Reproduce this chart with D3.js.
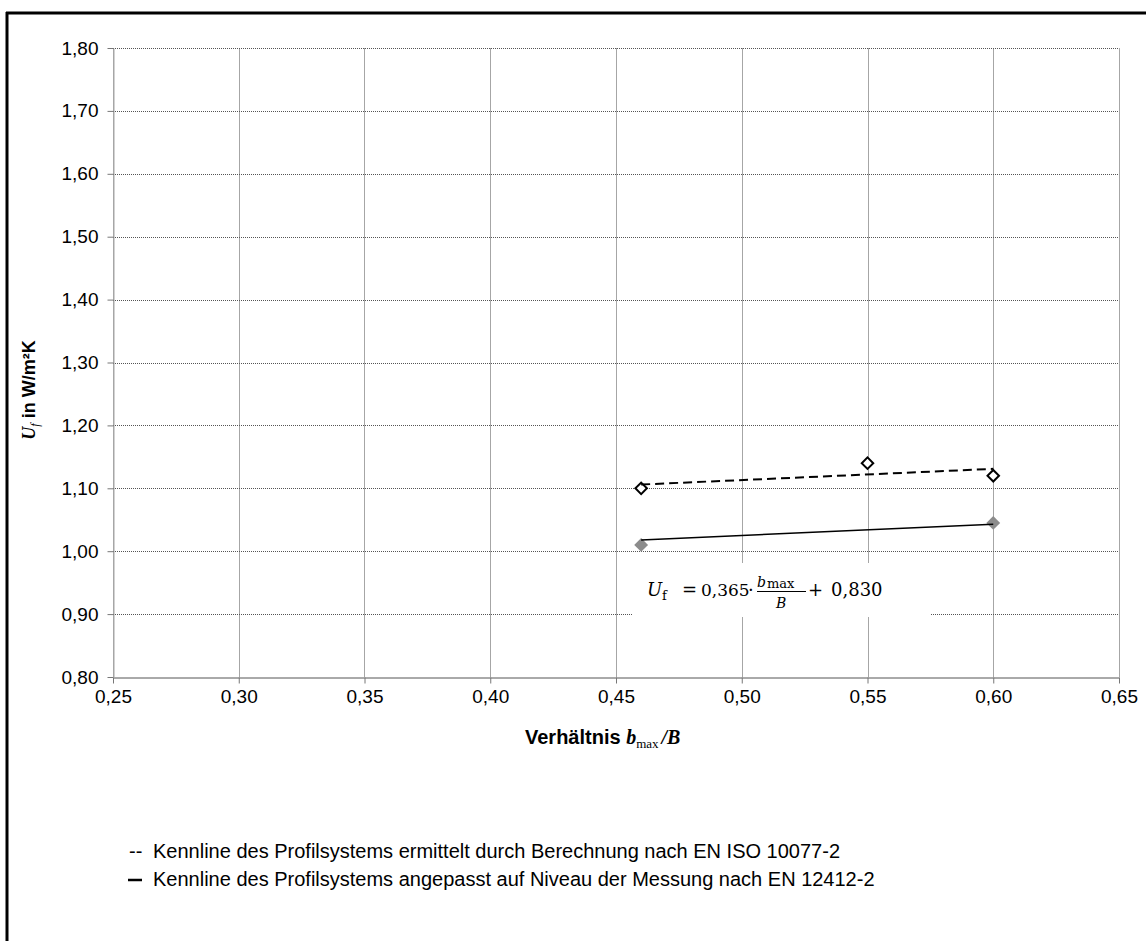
<!DOCTYPE html>
<html>
<head>
<meta charset="utf-8">
<script src="https://cdn.jsdelivr.net/npm/d3@7"></script>
<style>
  body { margin: 0; background: #fff; }
  text { font-family: "Liberation Sans", Arial, sans-serif; }
</style>
</head>
<body>
<svg id="chart" width="1146" height="941"></svg>
<script>
// values
var ratioCalc = [0.46, 0.55, 0.60];
var ufCalc = [1.10, 1.14, 1.12];
var ratioMeas = [0.46, 0.60];
var ufMeas = [1.01, 1.045];
var trendRatio = [0.46, 0.60];
var trendCalc = [1.106, 1.131];
var trendMeas = [1.018, 1.043];
var xTickValues = [0.25, 0.30, 0.35, 0.40, 0.45, 0.50, 0.55, 0.60, 0.65];
var yTickValues = [0.80, 0.90, 1.00, 1.10, 1.20, 1.30, 1.40, 1.50, 1.60, 1.70, 1.80];
var legendLabels = [
  "Kennline des Profilsystems ermittelt durch Berechnung nach EN ISO 10077-2",
  "Kennline des Profilsystems angepasst auf Niveau der Messung nach EN 12412-2"
];

var width = 1146, height = 941;
var plotLeft = 113, plotRight = 1119, plotTop = 48, plotBottom = 677;

var de = d3.formatLocale({ decimal: ",", thousands: ".", grouping: [3], currency: ["", " €"] });
var fmt = de.format(".2f");

var x = d3.scaleLinear().domain([0.25, 0.65]).range([plotLeft, plotRight]);
var y = d3.scaleLinear().domain([0.8, 1.8]).range([plotBottom, plotTop]);

var svg = d3.select("#chart");

// frame (top and left only)
svg.append("line").attr("x1", 6).attr("x2", width).attr("y1", 13).attr("y2", 13)
  .attr("stroke", "#000").attr("stroke-width", 3);
svg.append("line").attr("x1", 7).attr("x2", 7).attr("y1", 12).attr("y2", height)
  .attr("stroke", "#000").attr("stroke-width", 3);

// vertical grid
svg.append("g").selectAll("line").data(xTickValues).join("line")
  .attr("x1", function (d) { return Math.round(x(d)) + 0.5; })
  .attr("x2", function (d) { return Math.round(x(d)) + 0.5; })
  .attr("y1", plotTop).attr("y2", plotBottom)
  .attr("stroke", "#a6a6a6").attr("stroke-width", 1);

// horizontal grid, dotted
svg.append("g").selectAll("line").data(yTickValues.slice(1)).join("line")
  .attr("x1", plotLeft).attr("x2", plotRight)
  .attr("y1", function (d) { return Math.round(y(d)) + 0.5; })
  .attr("y2", function (d) { return Math.round(y(d)) + 0.5; })
  .attr("stroke", "#555").attr("stroke-width", 1).attr("stroke-dasharray", "1,1");

// axes
var xAxis = d3.axisBottom(x).tickValues(xTickValues).tickFormat(fmt).tickSizeInner(6).tickSizeOuter(0).tickPadding(6);
var gx = svg.append("g").attr("transform", "translate(0," + (Math.round(plotBottom) + 0.5) + ")").call(xAxis);
gx.select(".domain").attr("stroke", "#555");
gx.selectAll(".tick line").attr("stroke", "#777");
gx.selectAll("text").attr("font-size", 19).attr("fill", "#000")
  .attr("font-family", "'Liberation Sans', Arial, sans-serif");

var yAxis = d3.axisLeft(y).tickValues(yTickValues).tickFormat(fmt).tickSizeInner(6).tickSizeOuter(0).tickPadding(9);
var gy = svg.append("g").attr("transform", "translate(" + (plotLeft + 0.5) + ",0)").call(yAxis);
gy.select(".domain").attr("stroke", "#a6a6a6");
gy.selectAll(".tick line").attr("stroke", "#777");
gy.selectAll("text").attr("font-size", 19).attr("fill", "#000")
  .attr("font-family", "'Liberation Sans', Arial, sans-serif");

// white box behind the equation
svg.append("rect").attr("x", 633).attr("y", 563).attr("width", 297).attr("height", 54).attr("fill", "#fff");

// markers
var diamond = d3.symbol().type(d3.symbolSquare);
svg.append("g").selectAll("path").data(ratioMeas).join("path")
  .attr("d", diamond.size(96)())
  .attr("transform", function (d, i) { return "translate(" + x(d) + "," + y(ufMeas[i]) + ") rotate(45)"; })
  .attr("fill", "#8c8c8c");

svg.append("g").selectAll("path").data(ratioCalc).join("path")
  .attr("d", diamond.size(66)())
  .attr("transform", function (d, i) { return "translate(" + x(d) + "," + y(ufCalc[i]) + ") rotate(45)"; })
  .attr("fill", "#fff").attr("stroke", "#000").attr("stroke-width", 2);

// trend lines
var line = d3.line()
  .x(function (d) { return x(d[0]); })
  .y(function (d) { return y(d[1]); });

svg.append("path").datum(d3.zip(trendRatio, trendCalc)).attr("d", line)
  .attr("fill", "none").attr("stroke", "#000").attr("stroke-width", 2).attr("stroke-dasharray", "9,5");
svg.append("path").datum(d3.zip(trendRatio, trendMeas)).attr("d", line)
  .attr("fill", "none").attr("stroke", "#000").attr("stroke-width", 1.5);

// equation
var serif = "'DejaVu Serif', 'Liberation Serif', serif";
var eq = svg.append("g").attr("fill", "#000");
function eqText(px, py, size, str, italic) {
  return eq.append("text").attr("x", px).attr("y", py).attr("font-size", size)
    .attr("font-style", italic ? "italic" : "normal").style("font-family", serif).text(str);
}
eqText(647, 596, 18, "U", true);
eqText(662, 600, 13, "f", false);
eqText(682, 596, 18, "=", false);
eqText(701, 596, 17, "0,365", false);
eqText(748, 596, 18, "·", false);
eqText(757, 587, 14, "b", true);
eqText(767, 588, 13, "max", false);
eq.append("line").attr("x1", 757).attr("x2", 806).attr("y1", 591.5).attr("y2", 591.5)
  .attr("stroke", "#000").attr("stroke-width", 1);
eqText(776, 608, 14, "B", true);
eqText(808, 596, 18, "+", false);
eqText(831, 596, 18, "0,830", false);

// x axis title
var xt = svg.append("text").attr("x", 525).attr("y", 744).attr("font-size", 20).attr("font-weight", "bold");
xt.append("tspan").text("Verhältnis ");
xt.append("tspan").style("font-family", "'Liberation Serif', serif").attr("font-style", "italic").text("b");
xt.append("tspan").style("font-family", "'Liberation Serif', serif").attr("font-weight", "normal")
  .attr("font-size", 13).attr("dy", 4).text("max");
xt.append("tspan").style("font-family", "'Liberation Serif', serif").attr("font-style", "italic")
  .attr("dy", -4).attr("dx", 3).text("/B");

// y axis title
var yt = svg.append("text").attr("transform", "translate(35,390) rotate(-90)")
  .attr("text-anchor", "middle").attr("font-size", 18).attr("font-weight", "bold");
yt.append("tspan").style("font-family", "'Liberation Serif', serif").attr("font-style", "italic").text("U");
yt.append("tspan").style("font-family", "'Liberation Serif', serif").attr("font-style", "italic")
  .attr("font-weight", "normal").attr("font-size", 12).attr("dy", 4).text("f");
yt.append("tspan").attr("dy", -4).text(" in W/m²K");

// legend
var legend = svg.append("g").attr("font-size", 20).attr("fill", "#000");
legend.selectAll("text.lab").data(legendLabels).join("text").attr("class", "lab")
  .attr("x", 153).attr("y", function (d, i) { return 858 + i * 28; })
  .text(function (d) { return d; });
legend.append("text").attr("x", 129).attr("y", 858).text("--");
legend.append("line").attr("x1", 128).attr("x2", 142).attr("y1", 880).attr("y2", 880)
  .attr("stroke", "#000").attr("stroke-width", 2.5);
</script>
</body>
</html>
